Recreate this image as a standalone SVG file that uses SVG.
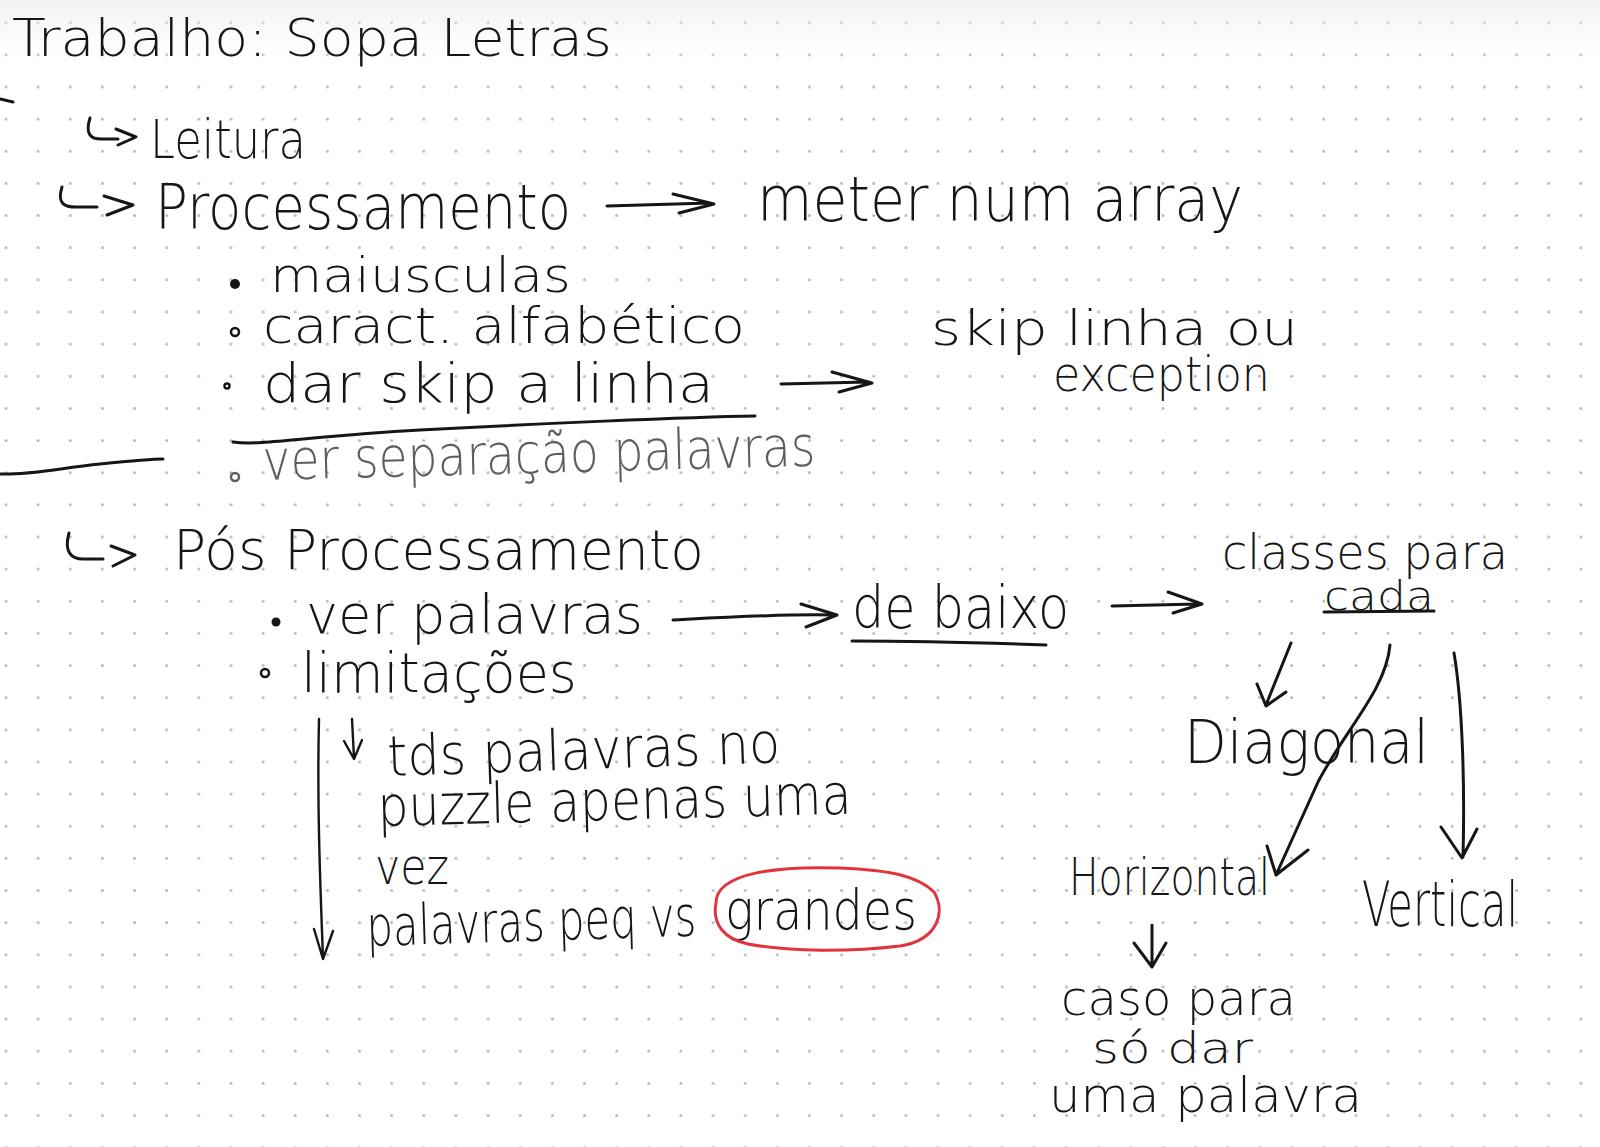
<svg xmlns="http://www.w3.org/2000/svg" width="1600" height="1147" viewBox="0 0 1600 1147">
  <defs>
    <pattern id="dotgrid" x="-10.07" y="6.63" width="32.14" height="32.14" patternUnits="userSpaceOnUse">
      <circle cx="16.07" cy="16.07" r="1.5" fill="#b9b9b9"/>
    </pattern>
    <linearGradient id="topshade" x1="0" y1="0" x2="0" y2="1">
      <stop offset="0" stop-color="#e6e6e6"/>
      <stop offset="1" stop-color="#ffffff" stop-opacity="0"/>
    </linearGradient>
    <style>
      .ink { fill: #161616; font-family: "DejaVu Sans", "Liberation Sans", sans-serif; font-weight: 200; }
      .soft { fill: #5e5e5e; }
      .pen { fill: none; stroke: #161616; stroke-width: 3; stroke-linecap: round; stroke-linejoin: round; }
      .dot { fill: #161616; }
      .ring { fill: none; stroke: #161616; stroke-width: 2.5; }
      .mark { fill: none; stroke: #e2343f; stroke-width: 3; stroke-linecap: round; }
    </style>
  </defs>

  <!-- paper -->
  <rect width="1600" height="1147" fill="#ffffff"/>
  <rect width="1600" height="1147" fill="url(#dotgrid)"/>
  <rect width="1600" height="70" fill="url(#topshade)" opacity="0.6"/>

  <!-- stray margin strokes -->
  <path class="pen" d="M0,99 L13,102"/>
  <path class="pen" d="M0,474 C30,475 60,468 100,464 S150,459 163,459"/>

  <g id="title">
    <text class="ink" x="12" y="56" font-size="52" textLength="600" lengthAdjust="spacingAndGlyphs">Trabalho: Sopa Letras</text>
  </g>

  <g id="leitura">
    <text class="ink" x="150" y="158" font-size="54" textLength="156" lengthAdjust="spacingAndGlyphs">Leitura</text>
  </g>

  <g id="processamento">
    <text class="ink" x="155" y="229" font-size="62" textLength="416" lengthAdjust="spacingAndGlyphs">Processamento</text>
  </g>

  <g id="array">
    <text class="ink" x="757" y="221" font-size="62" textLength="486" lengthAdjust="spacingAndGlyphs">meter num array</text>
  </g>

  <g id="processing-steps">
    <circle class="dot" cx="235" cy="284" r="5"/>
    <text class="ink" x="270" y="292" font-size="48" textLength="301" lengthAdjust="spacingAndGlyphs">maiusculas</text>
    <circle class="ring" cx="235" cy="332" r="4"/>
    <text class="ink" x="263" y="343" font-size="50" textLength="482" lengthAdjust="spacingAndGlyphs">caract. alfabético</text>
    <circle class="ring" cx="227" cy="386" r="2.5"/>
    <text class="ink" x="263" y="402" font-size="54" textLength="451" lengthAdjust="spacingAndGlyphs">dar skip a linha</text>
    <path class="pen" d="M233,442 C262,446 310,436 420,430 S690,417 755,416"/>
    <circle class="ring" cx="235" cy="477" r="4" style="stroke:#5e5e5e"/>
    <text class="ink soft" x="263" y="480" font-size="56" textLength="553" lengthAdjust="spacingAndGlyphs" transform="rotate(-1.5 263 480)">ver separação palavras</text>
  </g>

  <g id="skip-linha">
    <text class="ink" x="931" y="345" font-size="48" textLength="367" lengthAdjust="spacingAndGlyphs">skip linha ou</text>
    <text class="ink" x="1053" y="391" font-size="48" textLength="217" lengthAdjust="spacingAndGlyphs">exception</text>
  </g>

  <g id="pos-processamento">
    <text class="ink" x="173" y="569" font-size="56" textLength="531" lengthAdjust="spacingAndGlyphs">Pós Processamento</text>
    <circle class="dot" cx="276" cy="622" r="4.5"/>
    <text class="ink" x="306" y="633" font-size="54" textLength="337" lengthAdjust="spacingAndGlyphs">ver palavras</text>
    <circle class="ring" cx="265" cy="673" r="4"/>
    <text class="ink" x="301" y="692" font-size="56" textLength="276" lengthAdjust="spacingAndGlyphs">limitações</text>
  </g>

  <g id="de-baixo">
    <text class="ink" x="852" y="628" font-size="58" textLength="217" lengthAdjust="spacingAndGlyphs">de baixo</text>
    <path class="pen" d="M852,641 C920,641 990,643 1046,645"/>
  </g>

  <g id="classes">
    <text class="ink" x="1222" y="569" font-size="48" textLength="286" lengthAdjust="spacingAndGlyphs">classes para</text>
    <text class="ink" x="1324" y="610" font-size="40" textLength="110" lengthAdjust="spacingAndGlyphs">cada</text>
    <path class="pen" d="M1324,612 L1434,611"/>
  </g>

  <g id="limites">
    <text class="ink" x="388" y="776" font-size="56" textLength="393" lengthAdjust="spacingAndGlyphs" transform="rotate(-2 388 776)">tds palavras no</text>
    <text class="ink" x="378" y="826" font-size="56" textLength="474" lengthAdjust="spacingAndGlyphs" transform="rotate(-1.5 378 826)">puzzle apenas uma</text>
    <text class="ink" x="375" y="884" font-size="50" textLength="74" lengthAdjust="spacingAndGlyphs">vez</text>
    <text class="ink" x="367" y="946" font-size="56" textLength="330" lengthAdjust="spacingAndGlyphs" transform="rotate(-1.8 367 946)">palavras peq vs</text>
    <text class="ink" x="725" y="929" font-size="56" textLength="192" lengthAdjust="spacingAndGlyphs">grandes</text>
    <path class="mark" d="M716,903 C716,872 780,866 840,868 C890,870 918,876 934,892 C946,912 938,940 900,946 C850,952 790,952 748,944 C724,939 712,924 716,903 Z"/>
  </g>

  <g id="diagonal">
    <text class="ink" x="1184" y="763" font-size="60" textLength="245" lengthAdjust="spacingAndGlyphs">Diagonal</text>
  </g>

  <g id="horizontal">
    <text class="ink" x="1069" y="895" font-size="52" textLength="201" lengthAdjust="spacingAndGlyphs">Horizontal</text>
  </g>

  <g id="vertical">
    <text class="ink" x="1362" y="926" font-size="62" textLength="156" lengthAdjust="spacingAndGlyphs">Vertical</text>
  </g>

  <g id="caso">
    <text class="ink" x="1061" y="1015" font-size="48" textLength="235" lengthAdjust="spacingAndGlyphs">caso para</text>
    <text class="ink" x="1092" y="1063" font-size="42" textLength="161" lengthAdjust="spacingAndGlyphs">só dar</text>
    <text class="ink" x="1049" y="1112" font-size="48" textLength="313" lengthAdjust="spacingAndGlyphs">uma palavra</text>
  </g>

  <g id="connectors">
    <!-- hooked bullets -->
    <path class="pen" d="M90,118 C85,134 90,140 104,139 L118,139 M116,129 L136,137 L118,145"/>
    <path class="pen" d="M62,187 C57,203 63,208 80,207 L97,207 M104,196 L133,205 L107,215"/>
    <path class="pen" d="M69,533 C64,551 70,560 86,559 L103,559 M111,546 L135,555 L113,566"/>
    <!-- horizontal arrows -->
    <path class="pen" d="M607,206 L710,203 M673,194 L714,204 L679,213"/>
    <path class="pen" d="M781,384 L868,382 M832,372 L872,383 L839,392"/>
    <path class="pen" d="M673,620 C730,617 780,614 832,615 M801,604 L837,615 L806,627"/>
    <path class="pen" d="M1112,606 L1198,604 M1168,592 L1202,604 L1173,613"/>
    <!-- arrows out of classes para cada -->
    <path class="pen" d="M1291,643 L1266,705 M1257,684 L1266,706 L1286,692"/>
    <path class="pen" d="M1390,645 C1386,690 1345,730 1318,782 L1276,875 M1267,846 L1276,875 L1308,850"/>
    <path class="pen" d="M1454,653 C1462,700 1465,780 1463,857 M1441,827 L1462,858 L1477,829"/>
    <!-- Horizontal to caso para -->
    <path class="pen" d="M1152,925 L1152,966 M1134,943 L1152,967 L1166,943"/>
    <!-- limitations list arrows -->
    <path class="pen" d="M319,719 C317,800 320,880 323,958 M314,929 L323,959 L333,931" style="stroke-width:2.4"/>
    <path class="pen" d="M352,719 L354,758 M344,741 L354,759 L362,740" style="stroke-width:2.4"/>
  </g>
</svg>
